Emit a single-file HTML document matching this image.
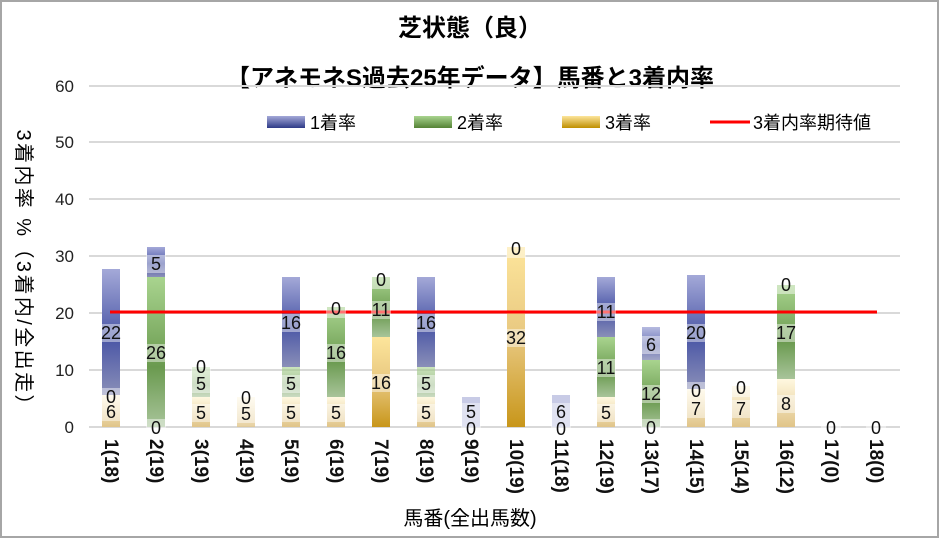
<!DOCTYPE html>
<html><head><meta charset="utf-8"><style>
body{margin:0;background:#fff}
svg{display:block;font-family:"Liberation Sans","Noto Sans CJK JP",sans-serif}
</style></head><body>
<svg width="940" height="539" viewBox="0 0 940 539">
<defs>
<linearGradient id="gb" x1="0" y1="0" x2="0" y2="1"><stop offset="0" stop-color="#a4a9d8"/><stop offset="0.55" stop-color="#4a56a6"/><stop offset="1" stop-color="#8a8fb8"/></linearGradient>
<linearGradient id="gg" x1="0" y1="0" x2="0" y2="1"><stop offset="0" stop-color="#a9d48f"/><stop offset="0.6" stop-color="#6a9a4f"/><stop offset="1" stop-color="#a8c49a"/></linearGradient>
<linearGradient id="gy" x1="0" y1="0" x2="0" y2="1"><stop offset="0" stop-color="#fde59b"/><stop offset="0.5" stop-color="#e8c880"/><stop offset="1" stop-color="#c8961a"/></linearGradient>
<linearGradient id="gy2" x1="0" y1="0" x2="0" y2="1"><stop offset="0" stop-color="#fff8e0"/><stop offset="1" stop-color="#e0c488"/></linearGradient>
<linearGradient id="lb" x1="0" y1="0" x2="0" y2="1"><stop offset="0" stop-color="#a4a9d8"/><stop offset="1" stop-color="#2e3a87"/></linearGradient>
<linearGradient id="lg" x1="0" y1="0" x2="0" y2="1"><stop offset="0" stop-color="#a9d48f"/><stop offset="1" stop-color="#548235"/></linearGradient>
<linearGradient id="ly" x1="0" y1="0" x2="0" y2="1"><stop offset="0" stop-color="#fde59b"/><stop offset="1" stop-color="#bf8f00"/></linearGradient>
</defs>
<rect x="1" y="1" width="937" height="536" fill="#fff" stroke="#a6a6a6" stroke-width="2"/>
<text x="470" y="36" font-size="24" font-weight="bold" text-anchor="middle">芝状態（良）</text>
<text x="470" y="86" font-size="24" font-weight="bold" text-anchor="middle">【アネモネS過去25年データ】馬番と3着内率</text>
<g stroke="#d9d9d9" stroke-width="2">
<line x1="89" y1="86" x2="900" y2="86"/><line x1="89" y1="142" x2="900" y2="142"/>
<line x1="89" y1="199" x2="900" y2="199"/><line x1="89" y1="256" x2="900" y2="256"/>
<line x1="89" y1="313" x2="900" y2="313"/><line x1="89" y1="370" x2="900" y2="370"/>
<line x1="89" y1="427" x2="900" y2="427"/>
</g>
<g font-size="17" fill="#222" text-anchor="end">
<text x="74" y="92">60</text><text x="74" y="148">50</text><text x="74" y="205">40</text>
<text x="74" y="262">30</text><text x="74" y="319">20</text><text x="74" y="376">10</text><text x="74" y="433">0</text>
</g>
<text transform="translate(17,272) rotate(90)" font-size="20" text-anchor="middle" textLength="285" lengthAdjust="spacing">3着内率 %（3着内/全出走）</text>
<!-- legend -->
<rect x="267" y="116" width="38" height="12" fill="url(#lb)"/><text x="310" y="129" font-size="18">1着率</text>
<rect x="414" y="116" width="38" height="12" fill="url(#lg)"/><text x="457" y="129" font-size="18">2着率</text>
<rect x="562" y="116" width="38" height="12" fill="url(#ly)"/><text x="605" y="129" font-size="18">3着率</text>
<line x1="710" y1="122" x2="750" y2="122" stroke="#f00" stroke-width="3"/><text x="753" y="129" font-size="18">3着内率期待値</text>
<!-- bars -->
<g>
<rect x="102" y="395" width="18" height="32" fill="url(#gy2)"/><rect x="102" y="269" width="18" height="126" fill="url(#gb)"/>
<rect x="147" y="277" width="18" height="150" fill="url(#gg)"/><rect x="147" y="247" width="18" height="30" fill="url(#gb)"/>
<rect x="192" y="397" width="18" height="30" fill="url(#gy2)"/><rect x="192" y="367" width="18" height="30" fill="url(#gg)" opacity="0.6"/>
<rect x="237" y="397" width="18" height="30" fill="url(#gy2)" opacity="0.8"/>
<rect x="282" y="397" width="18" height="30" fill="url(#gy2)"/><rect x="282" y="367" width="18" height="30" fill="url(#gg)" opacity="0.6"/><rect x="282" y="277" width="18" height="90" fill="url(#gb)"/>
<rect x="327" y="397" width="18" height="30" fill="url(#gy2)"/><rect x="327" y="307" width="18" height="90" fill="url(#gg)"/>
<rect x="372" y="337" width="18" height="90" fill="url(#gy)"/><rect x="372" y="277" width="18" height="60" fill="url(#gg)"/>
<rect x="417" y="397" width="18" height="30" fill="url(#gy2)"/><rect x="417" y="367" width="18" height="30" fill="url(#gg)" opacity="0.6"/><rect x="417" y="277" width="18" height="90" fill="url(#gb)"/>
<rect x="462" y="397" width="18" height="30" fill="#c8cbe6"/>
<rect x="507" y="247" width="18" height="180" fill="url(#gy)"/>
<rect x="552" y="395" width="18" height="32" fill="#c8cbe6"/>
<rect x="597" y="397" width="18" height="30" fill="url(#gy2)"/><rect x="597" y="337" width="18" height="60" fill="url(#gg)"/><rect x="597" y="277" width="18" height="60" fill="url(#gb)"/>
<rect x="642" y="360" width="18" height="67" fill="url(#gg)"/><rect x="642" y="327" width="18" height="33" fill="url(#gb)" opacity="0.8"/>
<rect x="687" y="389" width="18" height="38" fill="url(#gy2)"/><rect x="687" y="275" width="18" height="114" fill="url(#gb)"/>
<rect x="732" y="386" width="18" height="41" fill="url(#gy2)"/>
<rect x="777" y="379" width="18" height="48" fill="url(#gy2)"/><rect x="777" y="285" width="18" height="94" fill="url(#gg)"/>
</g>
<line x1="110" y1="312" x2="877" y2="312" stroke="#f00" stroke-width="3"/>
<g id="bg" fill="#fff" opacity="0.45"></g>
<!-- value labels -->
<g id="lab" font-size="18" fill="#111" text-anchor="middle">
<text x="111" y="418">6</text><text x="111" y="403">0</text><text x="111" y="339">22</text>
<text x="156" y="434">0</text><text x="156" y="359">26</text><text x="156" y="270">5</text>
<text x="201" y="419">5</text><text x="201" y="390">5</text><text x="201" y="373">0</text>
<text x="246" y="420">5</text><text x="246" y="404">0</text>
<text x="291" y="419">5</text><text x="291" y="390">5</text><text x="291" y="329">16</text>
<text x="336" y="419">5</text><text x="336" y="359">16</text><text x="336" y="315">0</text>
<text x="381" y="389">16</text><text x="381" y="316">11</text><text x="381" y="286">0</text>
<text x="426" y="419">5</text><text x="426" y="390">5</text><text x="426" y="329">16</text>
<text x="471" y="435">0</text><text x="471" y="418">5</text>
<text x="516" y="344">32</text><text x="516" y="255">0</text>
<text x="561" y="435">0</text><text x="561" y="418">6</text>
<text x="606" y="419">5</text><text x="606" y="374">11</text><text x="606" y="318">11</text>
<text x="651" y="434">0</text><text x="651" y="400">12</text><text x="651" y="351">6</text>
<text x="696" y="415">7</text><text x="696" y="397">0</text><text x="696" y="339">20</text>
<text x="741" y="415">7</text><text x="741" y="394">0</text>
<text x="786" y="410">8</text><text x="786" y="339">17</text><text x="786" y="291">0</text>
<text x="831" y="434">0</text><text x="876" y="434">0</text>
</g>
<!-- x labels -->
<g font-size="19" font-weight="bold" fill="#111">
<text transform="translate(105,439) rotate(90)">1(18)</text>
<text transform="translate(150,439) rotate(90)">2(19)</text>
<text transform="translate(195,439) rotate(90)">3(19)</text>
<text transform="translate(240,439) rotate(90)">4(19)</text>
<text transform="translate(285,439) rotate(90)">5(19)</text>
<text transform="translate(330,439) rotate(90)">6(19)</text>
<text transform="translate(375,439) rotate(90)">7(19)</text>
<text transform="translate(420,439) rotate(90)">8(19)</text>
<text transform="translate(465,439) rotate(90)">9(19)</text>
<text transform="translate(510,439) rotate(90)">10(19)</text>
<text transform="translate(555,439) rotate(90)">11(18)</text>
<text transform="translate(600,439) rotate(90)">12(19)</text>
<text transform="translate(645,439) rotate(90)">13(17)</text>
<text transform="translate(690,439) rotate(90)">14(15)</text>
<text transform="translate(735,439) rotate(90)">15(14)</text>
<text transform="translate(780,439) rotate(90)">16(12)</text>
<text transform="translate(825,439) rotate(90)">17(0)</text>
<text transform="translate(870,439) rotate(90)">18(0)</text>
</g>
<text x="470" y="525" font-size="20" text-anchor="middle">馬番(全出馬数)</text>
</svg>
<script>
var bg=document.getElementById('bg');
document.querySelectorAll('#lab text').forEach(function(t){
 var x=+t.getAttribute('x'),y=+t.getAttribute('y');
 var r=document.createElementNS('http://www.w3.org/2000/svg','rect');
 r.setAttribute('x',x-10);r.setAttribute('y',y-15);r.setAttribute('width',20);r.setAttribute('height',18);
 bg.appendChild(r);
});
</script>
</body></html>
